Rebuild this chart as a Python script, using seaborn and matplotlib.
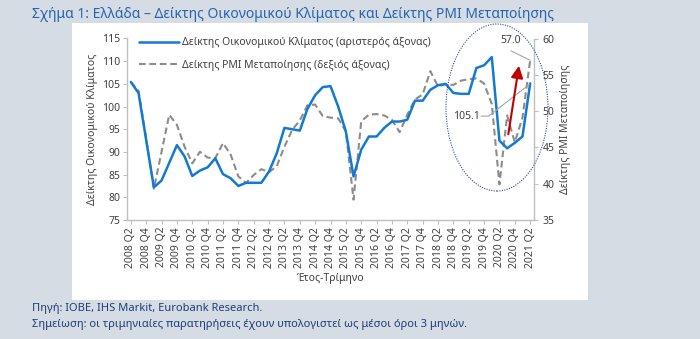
import matplotlib
matplotlib.use("Agg")
import matplotlib.pyplot as plt
from matplotlib.patches import Ellipse, Rectangle
from matplotlib.lines import Line2D
import pandas as pd
import seaborn as sns

# Quarterly observations, 2008 Q2 – 2021 Q2
quarters = [f"{y} Q{q}" for y in range(2008, 2022) for q in range(1, 5)][1:-2]

# Economic Sentiment Indicator (left axis)
esi = [105.4, 103.0, 92.6, 82.2, 83.7, 87.6, 91.5, 89.0, 84.7, 85.9,
       86.6, 88.6, 85.1, 84.2, 82.5, 83.2, 83.2, 83.2, 85.7, 89.7,
       95.3, 95.0, 94.7, 99.5, 102.5, 104.3, 104.5, 100.0, 94.5, 84.6,
       90.5, 93.4, 93.4, 95.3, 96.7, 96.7, 97.1, 101.3, 101.3, 103.7,
       104.7, 105.0, 103.0, 102.8, 102.8, 108.5, 109.1, 110.9, 92.5, 90.8,
       92.0, 93.4, 105.1]

# Manufacturing PMI (right axis)
pmi = [54.0, 52.8, 46.2, 39.3, 44.4, 49.5, 48.1, 45.1, 42.8, 44.4,
       43.6, 43.5, 45.6, 44.0, 41.0, 40.1, 41.2, 42.0, 41.6, 42.4,
       45.1, 47.4, 48.7, 50.8, 50.9, 49.3, 49.1, 49.0, 47.2, 37.8,
       48.6, 49.5, 49.6, 49.4, 48.8, 47.1, 49.5, 51.6, 52.3, 55.5,
       53.4, 53.7, 53.6, 54.2, 54.4, 54.5, 53.8, 51.0, 39.9, 49.4,
       45.7, 49.1, 57.0]

esi_label = "Δείκτης Οικονομικού Κλίματος (αριστερός άξονας)"
pmi_label = "Δείκτης PMI Μεταποίησης (δεξιός άξονας)"

sns.set_theme(style="white")
plt.rcParams["font.family"] = ["Noto Sans", "DejaVu Sans"]

BG = "#d6dce3"
BLUE = "#1479d0"
GREY = "#8c8c8c"
TXT = "#404040"
AXC = "#bfbfbf"
NAVY = "#1f3d7a"
DASH = (0, (3.2, 1.8))

W, H = 700, 339
fig = plt.figure(figsize=(W / 100, H / 100), dpi=100)
fig.patch.set_facecolor(BG)


def fx(px):
    return px / W


def fy(py):
    return 1 - py / H


# white chart panel, kept behind both axes
fig.patches.append(Rectangle((fx(72), fy(300)), fx(588) - fx(72), fy(23) - fy(300),
                             transform=fig.transFigure, facecolor="white",
                             edgecolor="none", zorder=-5))

ax = fig.add_axes([fx(127), fy(220), fx(534) - fx(127), fy(38.5) - fy(220)])
ax2 = ax.twinx()
ax2.set_zorder(1)
ax.set_zorder(2)
ax.patch.set_visible(False)
ax2.patch.set_visible(False)

df = pd.DataFrame({"pos": range(len(quarters)), "quarter": quarters,
                   "esi": esi, "pmi": pmi})

sns.lineplot(data=df, x="pos", y="pmi", ax=ax2, color=GREY, lw=1.5,
             linestyle=DASH, legend=False)
sns.lineplot(data=df, x="pos", y="esi", ax=ax, color=BLUE, lw=1.8, legend=False)

ax.set_xlim(-0.5, len(quarters) - 0.5)
ax.set_ylim(75, 115)
ax2.set_ylim(35, 60)
ax.set_yticks(range(75, 116, 5))
ax2.set_yticks(range(35, 61, 5))
ax.set_xticks(df["pos"][::2])
ax.set_xticklabels(df["quarter"][::2], rotation=90)

for a in (ax, ax2):
    for s in a.spines.values():
        s.set_color(AXC)
        s.set_linewidth(1.0)
    a.spines["top"].set_visible(False)
ax.spines["right"].set_visible(False)
ax2.spines["left"].set_visible(False)
ax2.spines["bottom"].set_visible(False)

ax.tick_params(axis="both", direction="out", length=3, width=0.8, color=AXC,
               labelcolor=TXT, labelsize=7.5, pad=2)
ax.tick_params(axis="y", left=True)
ax.tick_params(axis="x", bottom=True)
ax2.tick_params(axis="y", direction="out", length=3, width=0.8, color=AXC,
                labelcolor=TXT, labelsize=7.5, pad=3, right=True)

ax.set_xlabel("Έτος-Τρίμηνο", fontsize=7.5, color=TXT, labelpad=4)
ax.set_ylabel("Δείκτης Οικονομικού Κλίματος", fontsize=7.5, color=TXT, labelpad=3)
ax2.set_ylabel("Δείκτης PMI Μεταποίησης", fontsize=7.5, color=TXT, labelpad=4)

handles = [Line2D([], [], color=BLUE, lw=1.8),
           Line2D([], [], color=GREY, lw=1.5, linestyle=DASH)]
ax.legend(handles, [esi_label, pmi_label], loc="upper left",
          bbox_to_anchor=(0.02, 1.03), frameon=False, fontsize=7.5,
          handlelength=3.8, handletextpad=0.3, labelspacing=1.1,
          labelcolor=TXT, borderaxespad=0)

# value callouts for the last quarter
last = len(quarters) - 1
ax.text(45.5, 97.9, f"{esi[-1]:.1f}", fontsize=7.5, color=TXT, ha="right", va="center")
ax.plot([45.6, 46.6, last - 0.1], [97.9, 97.9, esi[-1] - 0.2], color="#a6a6a6", lw=0.8)
ax2.text(49.4, 58.9, f"{pmi[-1]:.1f}", fontsize=7.5, color=TXT, ha="center", va="bottom")
ax2.plot([49.5, last], [58.3, pmi[-1]], color="#a6a6a6", lw=0.8)

# rebound arrow
ax.annotate("", xy=(50.6, 109.6), xytext=(49.1, 93.3),
            arrowprops=dict(arrowstyle="-|>,head_length=0.6,head_width=0.3",
                            color="#c00000", lw=1.5))

# highlight around the latest quarters
fig.patches.append(Ellipse((fx(497), fy(107.5)), fx(548) - fx(446), fy(24) - fy(191),
                           transform=fig.transFigure, fill=False, edgecolor="#2e4a9c",
                           lw=0.8, linestyle=(0, (1, 1.2)), zorder=5))

fig.text(fx(32), fy(14), "Σχήμα 1: Ελλάδα – Δείκτης Οικονομικού Κλίματος και Δείκτης PMI Μεταποίησης",
         fontsize=10, color="#2466b0", ha="left", va="center")
fig.text(fx(32), fy(309), "Πηγή: IOBE, IHS Markit, Eurobank Research.",
         fontsize=8, color=NAVY, ha="left", va="center")
fig.text(fx(32), fy(324), "Σημείωση: οι τριμηνιαίες παρατηρήσεις έχουν υπολογιστεί ως μέσοι όροι 3 μηνών.",
         fontsize=8, color=NAVY, ha="left", va="center")

fig.savefig("out.png", dpi=100, facecolor=BG)
